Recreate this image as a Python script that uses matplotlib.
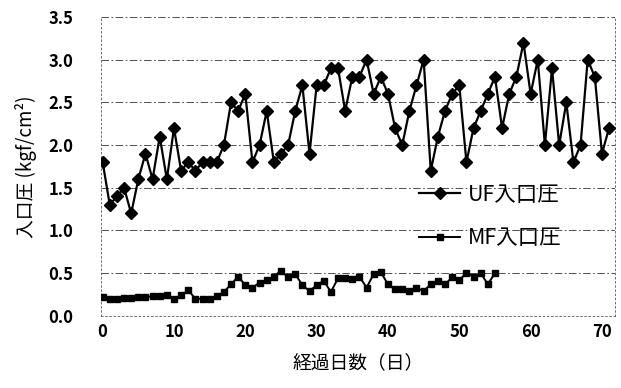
import matplotlib
matplotlib.use("Agg")
import matplotlib.pyplot as plt

plt.rcParams['font.family'] = ['Noto Sans CJK JP', 'DejaVu Sans']

# UF inlet pressure, one value per day (day 0 to 71)
uf_days = list(range(72))
uf_pressure = [1.8, 1.3, 1.4, 1.5, 1.2, 1.6, 1.9, 1.6, 2.1, 1.6,
               2.2, 1.7, 1.8, 1.7, 1.8, 1.8, 1.8, 2.0, 2.5, 2.4,
               2.6, 1.8, 2.0, 2.4, 1.8, 1.9, 2.0, 2.4, 2.7, 1.9,
               2.7, 2.7, 2.9, 2.9, 2.4, 2.8, 2.8, 3.0, 2.6, 2.8,
               2.6, 2.2, 2.0, 2.4, 2.7, 3.0, 1.7, 2.1, 2.4, 2.6,
               2.7, 1.8, 2.2, 2.4, 2.6, 2.8, 2.2, 2.6, 2.8, 3.2,
               2.6, 3.0, 2.0, 2.9, 2.0, 2.5, 1.8, 2.0, 3.0, 2.8,
               1.9, 2.2]

# MF inlet pressure (day 0 to 55)
mf_days = list(range(56))
mf_pressure = [0.22, 0.20, 0.20, 0.21, 0.21, 0.22, 0.22, 0.23, 0.23, 0.24,
               0.20, 0.24, 0.30, 0.20, 0.20, 0.20, 0.23, 0.28, 0.37, 0.46,
               0.36, 0.33, 0.39, 0.42, 0.46, 0.53, 0.45, 0.49, 0.36, 0.29,
               0.36, 0.41, 0.28, 0.44, 0.44, 0.43, 0.46, 0.33, 0.49, 0.51,
               0.37, 0.31, 0.31, 0.29, 0.33, 0.29, 0.37, 0.41, 0.37, 0.45,
               0.42, 0.50, 0.46, 0.50, 0.37, 0.50]

x_ticks = [0, 10, 20, 30, 40, 50, 60, 70]
y_ticks = [0.0, 0.5, 1.0, 1.5, 2.0, 2.5, 3.0, 3.5]

fig = plt.figure(figsize=(6.21, 3.88), dpi=100)
ax = fig.add_axes([0.163, 0.186, 0.827, 0.770])

grid_style = (0, (9, 3, 2, 3))
for y in y_ticks:
    ax.axhline(y, color='#333333', lw=0.6, linestyle=grid_style, zorder=0)

ax.plot(uf_days, uf_pressure, color='black', lw=1.6, marker='D',
        markersize=6.5, label='UF入口圧', zorder=3)
ax.plot(mf_days, mf_pressure, color='black', lw=1.4, marker='s',
        markersize=5, label='MF入口圧', zorder=3)

ax.set_xlim(-0.2, 71.8)
ax.set_ylim(0, 3.5)
ax.set_xticks(x_ticks)
ax.set_yticks(y_ticks)
ax.set_yticklabels([f"{v:.1f}" for v in y_ticks])
ax.tick_params(axis='both', length=0, labelsize=12)
ax.tick_params(axis='y', pad=20)
ax.tick_params(axis='x', pad=5)
for lbl in ax.get_xticklabels() + ax.get_yticklabels():
    lbl.set_fontweight('bold')

for side in ['left', 'right', 'bottom']:
    ax.spines[side].set_linestyle((0, (2, 3)))
    ax.spines[side].set_linewidth(0.6)
    ax.spines[side].set_color('#555555')
ax.spines['top'].set_visible(False)

ax.set_xlabel('経過日数（日）', fontsize=13.5, labelpad=8)
ax.set_ylabel('入口圧 (kgf/cm²)', fontsize=13.5, labelpad=8)

ax.legend(loc='center left', bbox_to_anchor=(0.619, 0.333), frameon=False,
          fontsize=15.5, handlelength=1.9, handletextpad=0.37,
          labelspacing=1.0, borderaxespad=0, borderpad=0)

fig.savefig('out.png', dpi=100)
